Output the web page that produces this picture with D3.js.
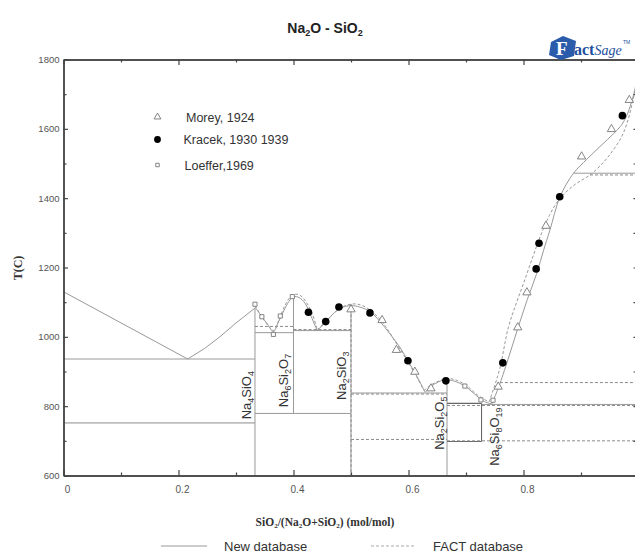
<!DOCTYPE html>
<html><head><meta charset="utf-8">
<script src="https://cdn.jsdelivr.net/npm/d3@7"></script>
<style>
html,body{margin:0;padding:0;background:#fff;}
svg{display:block;font-family:"Liberation Sans",Arial,sans-serif;}
</style></head>
<body>
<svg id="chart" width="635" height="555"></svg>
<script>
// ---------- data ----------
const xTicks = [0, 0.2, 0.4, 0.6, 0.8];
const xTickLabels = ["0", "0.2", "0.4", "0.6", "0.8"];
const xMinor = [0.1, 0.3, 0.5, 0.7, 0.9];
const yTicks = [600, 800, 1000, 1200, 1400, 1600, 1800];
const yMinor = [700, 900, 1100, 1300, 1500, 1700];

// Morey, 1924 (triangles)
const moreyX = [0.500, 0.554, 0.579, 0.611, 0.639, 0.756, 0.790, 0.806, 0.839, 0.901, 0.953, 0.984];
const moreyT = [1079, 1048, 962, 899, 851, 856, 1027, 1128, 1320, 1520, 1599, 1683];
// Kracek, 1930 1939 (filled circles)
const kracekX = [0.426, 0.456, 0.479, 0.533, 0.599, 0.665, 0.764, 0.822, 0.827, 0.863, 0.972];
const kracekT = [1071, 1044, 1086, 1069, 931, 873, 925, 1196, 1270, 1404, 1638];
// Loeffer, 1969 (squares)
const loefferX = [0.333, 0.345, 0.365, 0.377, 0.398, 0.698, 0.726, 0.747];
const loefferT = [1094, 1058, 1007, 1060, 1116, 858, 818, 817];

// New database liquidus (solid)
const newLiquidus = [
  [[0, 1130], [0.216, 936]],
  [[0.216, 936], [0.245, 966], [0.272, 1000], [0.300, 1040], [0.333, 1083]],
  [[0.333, 1086], [0.345, 1058], [0.355, 1036], [0.365, 1015], [0.373, 1040], [0.383, 1075], [0.392, 1102], [0.400, 1116], [0.410, 1113], [0.420, 1097], [0.431, 1058], [0.441, 1018]],
  [[0.441, 1018], [0.456, 1042], [0.468, 1065], [0.482, 1083], [0.500, 1090], [0.515, 1086], [0.533, 1073], [0.550, 1045], [0.568, 1008], [0.585, 970], [0.600, 928], [0.615, 885], [0.629, 840]],
  [[0.629, 840], [0.640, 858], [0.652, 870], [0.665, 876], [0.680, 872], [0.698, 858], [0.715, 835], [0.730, 815], [0.745, 806]],
  [[0.745, 806], [0.752, 835], [0.759, 865], [0.775, 945], [0.790, 1024], [0.806, 1105], [0.823, 1183], [0.835, 1250], [0.846, 1308], [0.8635, 1404], [0.887, 1472], [0.910, 1512], [0.935, 1552], [0.956, 1585], [0.970, 1610], [0.980, 1640], [0.990, 1690], [1.0, 1760]]
];
// FACT database liquidus (dashed)
const factLiquidus = [
  [[0.333, 1090], [0.345, 1058], [0.356, 1032], [0.366, 1018], [0.375, 1050], [0.385, 1090], [0.394, 1114], [0.403, 1123], [0.413, 1118], [0.423, 1098], [0.433, 1065], [0.441, 1022]],
  [[0.441, 1020], [0.458, 1048], [0.475, 1075], [0.490, 1090], [0.505, 1095], [0.520, 1090], [0.540, 1068], [0.560, 1030], [0.580, 978], [0.600, 925], [0.615, 882], [0.627, 845]],
  [[0.627, 845], [0.640, 862], [0.655, 874], [0.668, 880], [0.685, 874], [0.702, 858], [0.720, 832], [0.740, 812]],
  [[0.740, 812], [0.750, 860], [0.759, 910], [0.7735, 1026], [0.787, 1095], [0.800, 1154], [0.815, 1225], [0.829, 1289], [0.845, 1350], [0.8635, 1400], [0.890, 1440], [0.9157, 1467], [0.940, 1505], [0.956, 1539], [0.970, 1575], [0.980, 1616], [0.990, 1680], [1.0, 1760]]
];
// invariant / compound lines [x1, T1, x2, T2]
const newSegments = [
  [0, 936, 0.333, 936],
  [0.333, 1083, 0.333, 600],
  [0.333, 1012, 0.4, 1012],
  [0.4, 1116, 0.4, 779],
  [0.333, 779, 0.5, 779],
  [0.4, 1018, 0.5, 1018],
  [0.5, 1090, 0.5, 600],
  [0.5, 838, 0.667, 838],
  [0.667, 876, 0.667, 600],
  [0.727, 805, 1, 805],
  [0.887, 1472, 1, 1472]
];
const newBox = [
  [0.667, 808, 0.727, 808],
  [0.667, 698, 0.727, 698],
  [0.727, 808, 0.727, 698]
];
const lowLine = [[0, 752, 0.333, 752]];
const factSegments = [
  [0.333, 1030, 0.4, 1030],
  [0.4, 1021, 0.5, 1021],
  [0.5, 1094, 0.5, 600],
  [0.5, 835, 0.667, 835],
  [0.5, 704, 0.667, 704],
  [0.667, 700, 1, 700],
  [0.667, 802, 1, 802],
  [0.759, 868, 1, 868],
  [0.9157, 1467, 1, 1467]
];
// compound labels: text parts (base, sub, base, sub...)
const compounds = [
  ["Na", "4", "SiO", "4"],
  ["Na", "6", "Si", "2", "O", "7"],
  ["Na", "2", "SiO", "3"],
  ["Na", "2", "Si", "2", "O", "5"],
  ["Na", "6", "Si", "8", "O", "19"]
];
const compoundX = [0.333, 0.4, 0.5, 0.667, 0.727];
const compoundT = [762, 797, 818, 674, 628];

// ---------- layout ----------
const svg = d3.select("#chart");
const x = d3.scaleLinear().domain([0, 1]).range([63.5, 638.5]);
const y = d3.scaleLinear().domain([600, 1800]).range([475.5, 59.5]);
const labelDx = [-3.5, -6, -5.5, -3, 17];

const lineGen = d3.line().x(d => x(d[0])).y(d => y(d[1])).curve(d3.curveCatmullRom.alpha(0.5));
const g = svg.append("g");

g.selectAll(".low").data(lowLine).join("line")
  .attr("x1", d => x(d[0])).attr("y1", d => y(d[1])).attr("x2", d => x(d[2])).attr("y2", d => y(d[3]))
  .attr("stroke", "#bdbdbd").attr("stroke-width", 1.8);

g.selectAll(".seg").data(newSegments).join("line")
  .attr("x1", d => x(d[0])).attr("y1", d => y(d[1])).attr("x2", d => x(d[2])).attr("y2", d => y(d[3]))
  .attr("stroke", "#9a9a9a").attr("stroke-width", 1);
g.selectAll(".box").data(newBox).join("line")
  .attr("x1", d => x(d[0])).attr("y1", d => y(d[1])).attr("x2", d => x(d[2])).attr("y2", d => y(d[3]))
  .attr("stroke", "#666").attr("stroke-width", 1.1);
g.selectAll(".fseg").data(factSegments).join("line")
  .attr("x1", d => x(d[0])).attr("y1", d => y(d[1])).attr("x2", d => x(d[2])).attr("y2", d => y(d[3]))
  .attr("stroke", "#8a8a8a").attr("stroke-width", 1).attr("stroke-dasharray", "3,2");

g.selectAll(".nl").data(newLiquidus).join("path")
  .attr("d", (d, i) => i < 2 ? d3.line().x(p => x(p[0])).y(p => y(p[1]))(d) : lineGen(d))
  .attr("fill", "none").attr("stroke", "#999").attr("stroke-width", 1);
g.selectAll(".fl").data(factLiquidus).join("path")
  .attr("d", lineGen).attr("fill", "none").attr("stroke", "#999")
  .attr("stroke-width", 1).attr("stroke-dasharray", "3,2");

// compound labels
compounds.forEach((parts, i) => {
  const px = x(compoundX[i]) + labelDx[i], py = y(compoundT[i]);
  const t = svg.append("text")
    .attr("transform", `translate(${px},${py}) rotate(-90)`)
    .attr("font-size", 13).attr("fill", "#333");
  parts.forEach((p, j) => {
    const sub = j % 2 === 1;
    const ts = t.append("tspan").text(p);
    if (sub) ts.attr("font-size", 9).attr("dy", 3);
    else if (j > 0) ts.attr("dy", -3);
  });
});

// axes
const axisColor = "#444";
function styleAxis(sel) {
  sel.select(".domain").attr("stroke", axisColor).attr("stroke-width", 1.4);
  sel.selectAll(".tick line").attr("stroke", axisColor).attr("stroke-width", 1.2);
  sel.selectAll("text").attr("fill", "#555").attr("font-size", 10)
    .attr("font-family", "Liberation Sans, Arial, sans-serif");
}
const gx = svg.append("g").attr("transform", `translate(0,${y(600)})`)
  .call(d3.axisBottom(x).tickValues(xTicks).tickFormat((d, i) => xTickLabels[i]).tickSize(-5.5).tickSizeOuter(0).tickPadding(10));
styleAxis(gx);
gx.selectAll("text").attr("dx", 3.5);
const gxm = svg.append("g").attr("transform", `translate(0,${y(600)})`)
  .call(d3.axisBottom(x).tickValues(xMinor).tickFormat("").tickSize(-3).tickSizeOuter(0));
styleAxis(gxm);
const gt = svg.append("g").attr("transform", `translate(0,${y(1800)})`)
  .call(d3.axisTop(x).tickValues(xTicks).tickFormat("").tickSize(-5.5).tickSizeOuter(0));
styleAxis(gt);
const gtm = svg.append("g").attr("transform", `translate(0,${y(1800)})`)
  .call(d3.axisTop(x).tickValues(xMinor).tickFormat("").tickSize(-3).tickSizeOuter(0));
styleAxis(gtm);
const gy = svg.append("g").attr("transform", `translate(${x(0)},0)`)
  .call(d3.axisLeft(y).tickValues(yTicks).tickFormat(d3.format("d")).tickSize(-4.5).tickSizeOuter(0).tickPadding(4));
styleAxis(gy);
gy.selectAll("text").attr("font-size", 9.5);
const gym = svg.append("g").attr("transform", `translate(${x(0)},0)`)
  .call(d3.axisLeft(y).tickValues(yMinor).tickFormat("").tickSize(-3).tickSizeOuter(0));
styleAxis(gym);
const gr = svg.append("g").attr("transform", `translate(${x(1)},0)`)
  .call(d3.axisRight(y).tickValues(yTicks.concat(yMinor)).tickFormat("").tickSize(-5).tickSizeOuter(0));
styleAxis(gr);

// markers
const tri = d3.symbol().type(d3.symbolTriangle).size(30);
const sq = d3.symbol().type(d3.symbolSquare).size(17);
svg.append("g").selectAll("path").data(moreyX).join("path")
  .attr("transform", (d, i) => `translate(${x(d)},${y(moreyT[i])})`)
  .attr("d", tri).attr("fill", "#fff").attr("stroke", "#777").attr("stroke-width", 0.9);
svg.append("g").selectAll("path").data(loefferX).join("path")
  .attr("transform", (d, i) => `translate(${x(d)},${y(loefferT[i])})`)
  .attr("d", sq).attr("fill", "#fff").attr("stroke", "#777").attr("stroke-width", 0.9);
svg.append("g").selectAll("circle").data(kracekX).join("circle")
  .attr("cx", d => x(d)).attr("cy", (d, i) => y(kracekT[i])).attr("r", 3.8).attr("fill", "#000");

// data legend
const legendItems = ["Morey, 1924", "Kracek, 1930 1939", "Loeffer,1969"];
const lg = svg.append("g");
const ly = [117, 139.5, 165];
const ltx = [186, 183.5, 184.5];
lg.append("path").attr("transform", `translate(157.5,${ly[0]})`)
  .attr("d", d3.symbol().type(d3.symbolTriangle).size(20)).attr("fill", "#fff").attr("stroke", "#777").attr("stroke-width", 0.9);
lg.append("circle").attr("cx", 157.5).attr("cy", ly[1]).attr("r", 3.4).attr("fill", "#000");
lg.append("path").attr("transform", `translate(157.5,${ly[2]})`)
  .attr("d", d3.symbol().type(d3.symbolSquare).size(12)).attr("fill", "#fff").attr("stroke", "#777").attr("stroke-width", 0.9);
legendItems.forEach((t, i) => {
  lg.append("text").attr("x", ltx[i]).attr("y", ly[i] + 4.5).attr("font-size", 12.5).attr("fill", "#333").text(t);
});

// axis titles
svg.append("text").attr("transform", "translate(22,268) rotate(-90)")
  .attr("text-anchor", "middle").attr("font-family", "Liberation Serif, Times New Roman, serif")
  .attr("font-weight", "bold").attr("font-size", 12).attr("fill", "#333").text("T(C)");
const xt = svg.append("text").attr("x", 325).attr("y", 526).attr("text-anchor", "middle")
  .attr("font-family", "Liberation Serif, Times New Roman, serif").attr("font-weight", "bold")
  .attr("font-size", 11.5).attr("fill", "#333");
[["SiO", 0], ["2", 1], ["/(Na", 0], ["2", 1], ["O+SiO", 0], ["2", 1], [") (mol/mol)", 0]].forEach((p, j) => {
  const ts = xt.append("tspan").text(p[0]);
  if (p[1]) ts.attr("font-size", 7).attr("dy", 2);
  else if (j > 0) ts.attr("dy", -2);
});

// title
const title = svg.append("text").attr("x", 325).attr("y", 33).attr("text-anchor", "middle")
  .attr("font-size", 14).attr("font-weight", "bold").attr("fill", "#222");
[["Na", 0], ["2", 1], ["O - SiO", 0], ["2", 1]].forEach((p, j) => {
  const ts = title.append("tspan").text(p[0]);
  if (p[1]) ts.attr("font-size", 9).attr("dy", 3);
  else if (j > 0) ts.attr("dy", -3);
});

// FactSage logo
const logo = svg.append("g").attr("transform", "translate(549,36)");
logo.append("path").attr("d", "M2,6 L14,0 L27,5 L25,20 L12,24 L0,19 Z").attr("fill", "#2a5cab");
logo.append("text").attr("x", 7).attr("y", 19).attr("font-family", "Liberation Serif, serif")
  .attr("font-weight", "bold").attr("font-size", 19).attr("fill", "#fff").text("F");
logo.append("text").attr("x", 25).attr("y", 19).attr("font-family", "Liberation Serif, serif")
  .attr("font-size", 16).attr("fill", "#1d4f9e")
  .call(t => { t.append("tspan").attr("font-weight", "bold").text("act"); t.append("tspan").attr("font-style", "italic").attr("font-size", 14).text("Sage"); });
logo.append("text").attr("x", 74).attr("y", 8).attr("font-size", 5).attr("fill", "#1d4f9e").text("TM");

// bottom legend
const bl = svg.append("g");
bl.append("line").attr("x1", 161).attr("x2", 207).attr("y1", 546).attr("y2", 546).attr("stroke", "#999").attr("stroke-width", 1.2);
bl.append("text").attr("x", 224).attr("y", 550.5).attr("font-size", 13).attr("fill", "#333").text("New database");
bl.append("line").attr("x1", 371).attr("x2", 416).attr("y1", 546).attr("y2", 546).attr("stroke", "#aaa").attr("stroke-width", 1.2).attr("stroke-dasharray", "3,2");
bl.append("text").attr("x", 433).attr("y", 550.5).attr("font-size", 13).attr("fill", "#333").text("FACT database");
</script>
</body></html>
